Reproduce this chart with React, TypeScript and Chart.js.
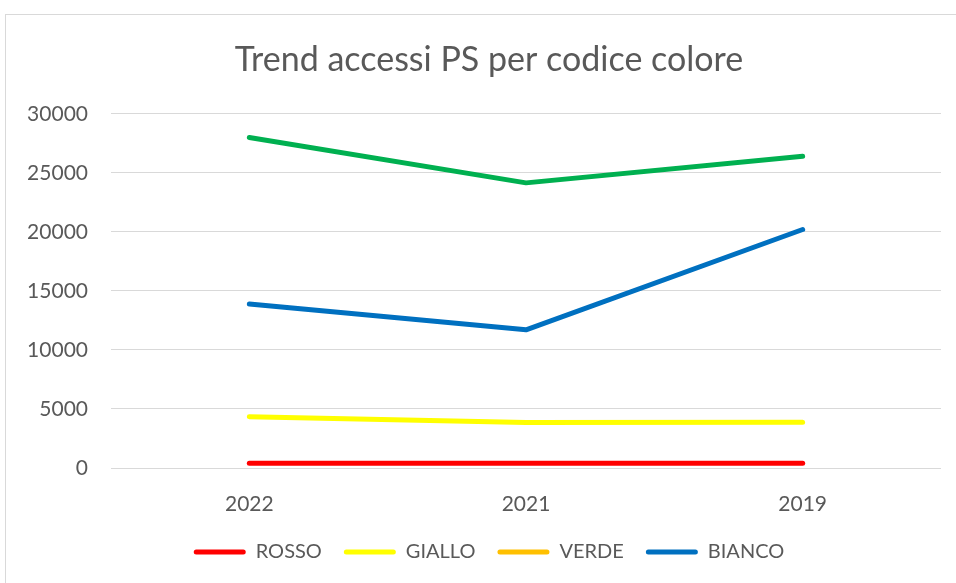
import React, { useEffect, useRef } from "react";
import { Chart, registerables } from "chart.js";

Chart.register(...registerables);

const chartTitle = "Trend accessi PS per codice colore";
const categories = ["2022", "2021", "2019"];
const seriesNames = ["ROSSO", "GIALLO", "VERDE", "BIANCO"];
const rosso = [400, 400, 400];
const giallo = [4350, 3850, 3870];
const verde = [28000, 24150, 26400];
const bianco = [13900, 11700, 20200];
const lineColors = ["#FF0000", "#FFFF00", "#00B050", "#0070C0"];
const legendColors = ["#FF0000", "#FFFF00", "#FFC000", "#0070C0"];
const yMin = 0;
const yMax = 30000;
const yStep = 5000;

const FONT = 'Lato, "Open Sans", sans-serif';
const TEXT = "#595959";

export default function App() {
  const ref = useRef<HTMLCanvasElement | null>(null);

  useEffect(() => {
    if (!ref.current) return;
    const values = [rosso, giallo, verde, bianco];
    const chart = new Chart(ref.current, {
      type: "line",
      data: {
        labels: categories,
        datasets: seriesNames.map((name, i) => ({
          label: name,
          data: values[i],
          borderColor: lineColors[i],
          backgroundColor: lineColors[i],
          borderWidth: 5,
          borderCapStyle: "round",
          borderJoinStyle: "round",
          pointRadius: 0,
          pointHoverRadius: 0,
          tension: 0,
          fill: false,
        })),
      },
      options: {
        animation: false,
        responsive: false,
        maintainAspectRatio: false,
        layout: { padding: { left: 0, right: 0, top: 0, bottom: 18 } },
        plugins: {
          tooltip: { enabled: false },
          title: {
            display: true,
            text: chartTitle,
            color: TEXT,
            font: { family: FONT, size: 34, weight: "normal" },
            padding: { top: 25, bottom: 33 },
          },
          legend: {
            display: true,
            position: "bottom",
            maxHeight: 45,
            labels: {
              color: TEXT,
              font: { family: FONT, size: 20 },
              boxWidth: 52,
              boxHeight: 5,
              padding: 22,
              generateLabels: (c: any) =>
                c.data.datasets.map((ds: any, i: number) => ({
                  text: ds.label,
                  fillStyle: legendColors[i],
                  strokeStyle: legendColors[i],
                  lineWidth: 0,
                  borderRadius: 2.5,
                  fontColor: TEXT,
                  hidden: false,
                  datasetIndex: i,
                })),
            },
          },
        },
        scales: {
          x: {
            offset: true,
            grid: { display: false },
            border: { display: false },
            ticks: {
              color: TEXT,
              font: { family: FONT, size: 21 },
              padding: 16,
              maxRotation: 0,
            },
            afterFit: (s: any) => {
              s.height = 52;
            },
          },
          y: {
            min: yMin,
            max: yMax,
            grid: { color: "#D9D9D9", lineWidth: 1, drawTicks: false },
            border: { display: false },
            ticks: {
              stepSize: yStep,
              color: TEXT,
              font: { family: FONT, size: 21 },
              padding: 23,
              callback: (v: any) => String(v),
            },
            afterFit: (s: any) => {
              s.width = 105;
            },
          },
          y2: {
            position: "right",
            display: true,
            grid: { display: false, drawTicks: false },
            border: { display: false },
            ticks: { display: false },
            afterFit: (s: any) => {
              s.width = 31;
            },
          },
        },
      },
    });
    return () => chart.destroy();
  }, []);

  return (
    <div
      style={{
        position: "fixed",
        left: 0,
        top: 0,
        width: 956,
        height: 583,
        overflow: "hidden",
        background: "#fff",
      }}
    >
      <div
        style={{
          position: "absolute",
          left: 5,
          top: 14,
          width: 966,
          height: 600,
          border: "1px solid #D9D9D9",
          background: "#fff",
        }}
      >
        <canvas ref={ref} width={966} height={568} style={{ display: "block" }} />
      </div>
    </div>
  );
}
